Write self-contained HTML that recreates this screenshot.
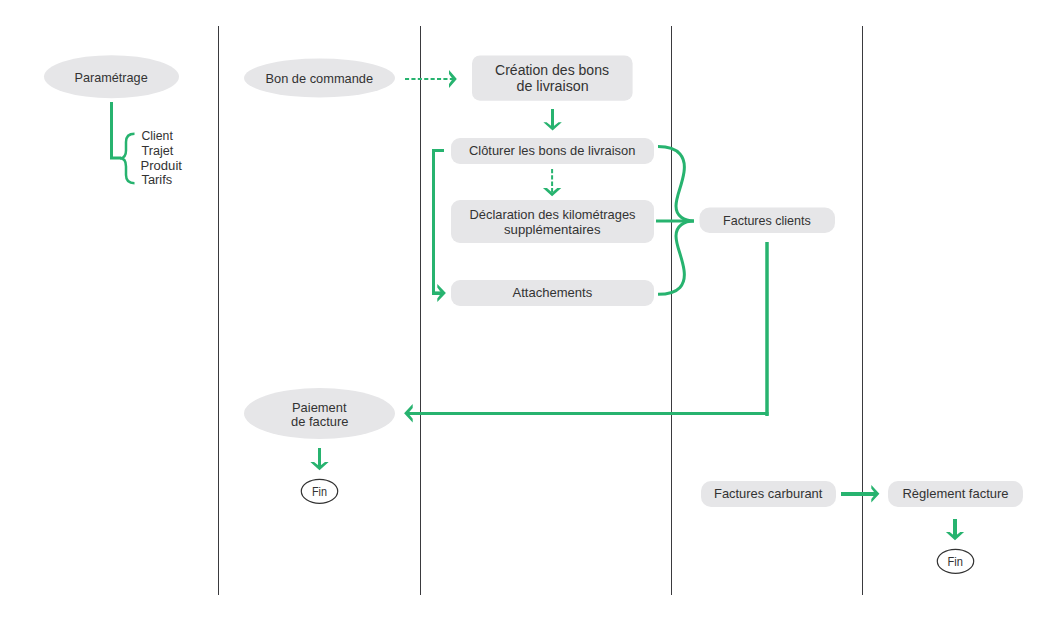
<!DOCTYPE html>
<html><head><meta charset="utf-8">
<style>
html,body{margin:0;padding:0;background:#fff;width:1060px;height:620px;overflow:hidden}
svg{display:block}
text{font-family:"Liberation Sans",sans-serif;fill:#333;}
</style></head>
<body>
<svg width="1060" height="620" viewBox="0 0 1060 620">
<!-- lane lines -->
<g stroke="#3a3a3e" stroke-width="1">
<line x1="218.5" y1="26" x2="218.5" y2="595"/>
<line x1="420.5" y1="26" x2="420.5" y2="595"/>
<line x1="671.5" y1="26" x2="671.5" y2="595"/>
<line x1="862.5" y1="26" x2="862.5" y2="595"/>
</g>
<!-- shapes -->
<g fill="#e6e6e8">
<ellipse cx="111.5" cy="76.7" rx="67.5" ry="21.5"/>
<ellipse cx="319.5" cy="78" rx="75.5" ry="19.5"/>
<rect x="472" y="55.4" width="160.6" height="45.3" rx="8"/>
<rect x="451" y="138" width="203" height="26" rx="9"/>
<rect x="451" y="200" width="203" height="43" rx="9"/>
<rect x="451" y="280" width="203" height="26" rx="9"/>
<rect x="699.5" y="207.5" width="135.5" height="25.5" rx="10"/>
<ellipse cx="319.5" cy="413.5" rx="75.5" ry="25.5"/>
<rect x="701" y="481" width="135" height="26" rx="10"/>
<rect x="888" y="481" width="135" height="26" rx="10"/>
</g>
<g fill="none" stroke="#333" stroke-width="1.2">
<ellipse cx="319.5" cy="491.3" rx="18.2" ry="12"/>
<ellipse cx="955.5" cy="561.3" rx="18.2" ry="12"/>
</g>
<!-- green connectors -->
<g fill="none" stroke="#27b36f" stroke-width="3">
<path d="M111.5 102 V158 H121"/>
<path d="M134.5 133.8 C127.5 133.8 126 137.5 126 142 V150.5 C126 155.5 124.5 158.3 120 158.3 C124.5 158.3 126 161.5 126 166.5 V175 C126 179.5 127.5 183.2 134.5 183.2" stroke-width="2.5"/>
<path d="M405 79 H453" stroke-width="2" stroke-dasharray="4.1 2.3"/>
<path d="M552.5 109 V128"/>
<path d="M444 150.5 H433.5 V293"/>
<path d="M432 293.2 H442" stroke-width="3.6"/>
<path d="M552.1 169 V192.6" stroke-width="2" stroke-dasharray="4.3 2"/>
<path d="M658 146.5 C680 146.5 686 158 684 172 C682 186 676 196 676 206 C676 216 684 221 694 221 C684 221 676 226 676 236 C676 246 682 256 684 270 C686 284 680 294.3 658 294.3"/>
<path d="M656 221 H694"/>
<path d="M767 242 V416" stroke-width="3.5"/>
<path d="M768.5 413.4 H408"/>
<path d="M319.5 448 V467"/>
<path d="M841 494 H876" stroke-width="4"/>
<path d="M955 519 V537" stroke-width="4"/>
</g>
<g fill="#27b36f" stroke="none">
<polygon points="456.80,79.00 449.00,87.90 449.00,84.00 452.60,79.00 449.00,74.00 449.00,70.10"/>
<polygon points="552.60,130.50 543.40,122.20 546.60,122.20 552.60,127.00 558.60,122.20 561.80,122.20"/>
<polygon points="445.90,293.00 437.30,301.90 437.30,298.40 441.40,293.00 437.30,287.60 437.30,284.10"/>
<polygon points="552.10,196.30 542.95,188.10 546.95,188.10 552.10,192.60 557.25,188.10 561.25,188.10"/>
<polygon points="404.10,413.30 412.70,404.10 412.70,407.90 408.20,413.30 412.70,418.70 412.70,422.50"/>
<polygon points="319.50,470.30 310.35,462.10 314.05,462.10 319.50,466.30 324.95,462.10 328.65,462.10"/>
<polygon points="879.40,493.80 871.30,502.60 871.30,499.10 875.40,493.80 871.30,488.50 871.30,485.00"/>
<polygon points="955.00,540.30 945.90,532.00 949.70,532.00 955.00,536.30 960.30,532.00 964.10,532.00"/>
</g>
<!-- text -->
<g>
<text x="74.50" y="81.7" font-size="12.8" textLength="73.18" lengthAdjust="spacingAndGlyphs">Paramétrage</text>
<text x="141.50" y="140" font-size="12" textLength="31.29" lengthAdjust="spacingAndGlyphs">Client</text>
<text x="141.50" y="155" font-size="12" textLength="31.81" lengthAdjust="spacingAndGlyphs">Trajet</text>
<text x="140.50" y="170" font-size="12" textLength="41.43" lengthAdjust="spacingAndGlyphs">Produit</text>
<text x="141.50" y="184" font-size="12" textLength="30.67" lengthAdjust="spacingAndGlyphs">Tarifs</text>
<text x="265.50" y="82.9" font-size="12.8" textLength="107.62" lengthAdjust="spacingAndGlyphs">Bon de commande</text>
<text x="495.00" y="74.6" font-size="14" textLength="114.04" lengthAdjust="spacingAndGlyphs">Création des bons</text>
<text x="516.50" y="90.6" font-size="14" textLength="72.23" lengthAdjust="spacingAndGlyphs">de livraison</text>
<text x="469.00" y="154.8" font-size="12.4" textLength="166.38" lengthAdjust="spacingAndGlyphs">Clôturer les bons de livraison</text>
<text x="469.50" y="219" font-size="12.4" textLength="165.98" lengthAdjust="spacingAndGlyphs">Déclaration des kilométrages</text>
<text x="504.00" y="233.7" font-size="12.4" textLength="96.52" lengthAdjust="spacingAndGlyphs">supplémentaires</text>
<text x="512.50" y="296.9" font-size="12.4" textLength="79.77" lengthAdjust="spacingAndGlyphs">Attachements</text>
<text x="723.00" y="224.8" font-size="12.4" textLength="87.77" lengthAdjust="spacingAndGlyphs">Factures clients</text>
<text x="292.00" y="411.8" font-size="12.2" textLength="54.50" lengthAdjust="spacingAndGlyphs">Paiement</text>
<text x="291.00" y="425.9" font-size="12.2" textLength="57.40" lengthAdjust="spacingAndGlyphs">de facture</text>
<text x="312.00" y="495.9" font-size="12.4" textLength="15.02" lengthAdjust="spacingAndGlyphs">Fin</text>
<text x="714.00" y="497.8" font-size="12.4" textLength="108.40" lengthAdjust="spacingAndGlyphs">Factures carburant</text>
<text x="902.50" y="497.6" font-size="12.4" textLength="106.05" lengthAdjust="spacingAndGlyphs">Règlement facture</text>
<text x="947.50" y="565.9" font-size="12.4" textLength="15.42" lengthAdjust="spacingAndGlyphs">Fin</text>
</g>
</svg>
</body></html>
